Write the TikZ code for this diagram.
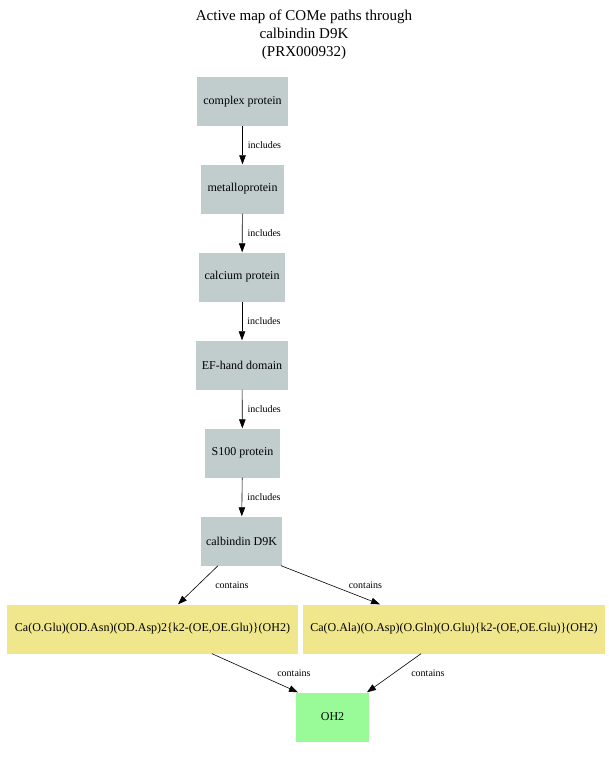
\documentclass[tikz,border=0pt]{standalone}
\usepackage{fontspec}
\setmainfont{Liberation Serif}
\usetikzlibrary{arrows.meta, positioning}
\definecolor{classgray}{RGB}{193, 205, 205}
\definecolor{sitekhaki}{RGB}{240, 230, 140}
\definecolor{ligandgreen}{RGB}{152, 251, 152}

\begin{document}
\begin{tikzpicture}[x=1pt, y=-1pt,
    classbox/.style={fill=classgray, minimum height=49pt, inner sep=0pt, font=\fontsize{12}{14}\selectfont},
    sitebox/.style={fill=sitekhaki, minimum height=49pt, inner sep=0pt, font=\fontsize{12}{14}\selectfont},
    ligandbox/.style={fill=ligandgreen, minimum height=49pt, inner sep=0pt, font=\fontsize{12}{14}\selectfont},
    link/.style={-{Triangle[length=9pt, width=6.5pt]}, semithick},
    rel/.style={font=\fontsize{10}{12}\selectfont, midway, inner sep=1pt}]
        \useasboundingbox (0,0) rectangle (609,758);

        % Title
        \node[align=center, font=\fontsize{15}{18}\selectfont] (title) at (304,35)
            {Active map of COMe paths through\\calbindin D9K\\(PRX000932)};

        % Class hierarchy
        \node[classbox, minimum width=91pt] (complex) at (242.5,101.5) {complex protein};
        \node[classbox, minimum width=83pt] (metallo) at (242.5,189) {metalloprotein};
        \node[classbox, minimum width=86pt] (calcium) at (242,277) {calcium protein};
        \node[classbox, minimum width=92pt] (efhand) at (242,365) {EF-hand domain};
        \node[classbox, minimum width=75pt] (sprot) at (242.5,453) {S100 protein};
        \node[classbox, minimum width=81pt] (calb) at (241.5,541) {calbindin D9K};

        % Binding sites
        \node[sitebox, minimum width=291pt] (siteA) at (152.5,629) {Ca(O.Glu)(OD.Asn)(OD.Asp)2\{k2-(OE,OE.Glu)\}(OH2)};
        \node[sitebox, minimum width=302pt] (siteB) at (454,629) {Ca(O.Ala)(O.Asp)(O.Gln)(O.Glu)\{k2-(OE,OE.Glu)\}(OH2)};

        % Ligand
        \node[ligandbox, minimum width=73pt] (water) at (332.5,717) {OH2};

        % Edges
        \foreach \a/\b in {complex/metallo, metallo/calcium, calcium/efhand, efhand/sprot, sprot/calb} {
            \draw[link] (\a) -- (\b) node[rel, right=4pt] {includes};
        }
        \draw[link] ([xshift=-23.5pt]calb.south) -- ([xshift=25.5pt]siteA.north) node[rel, right=16pt] {contains};
        \draw[link] ([xshift=39.5pt]calb.south) -- ([xshift=-74pt]siteB.north) node[rel, right=17pt] {contains};
        \draw[link] ([xshift=59.5pt]siteA.south) -- ([xshift=-34.5pt]water.north) node[rel, right=21pt] {contains};
        \draw[link] ([xshift=-33pt]siteB.south) -- ([xshift=34.5pt]water.north) node[rel, right=16pt] {contains};
    \end{tikzpicture}
\end{document}
